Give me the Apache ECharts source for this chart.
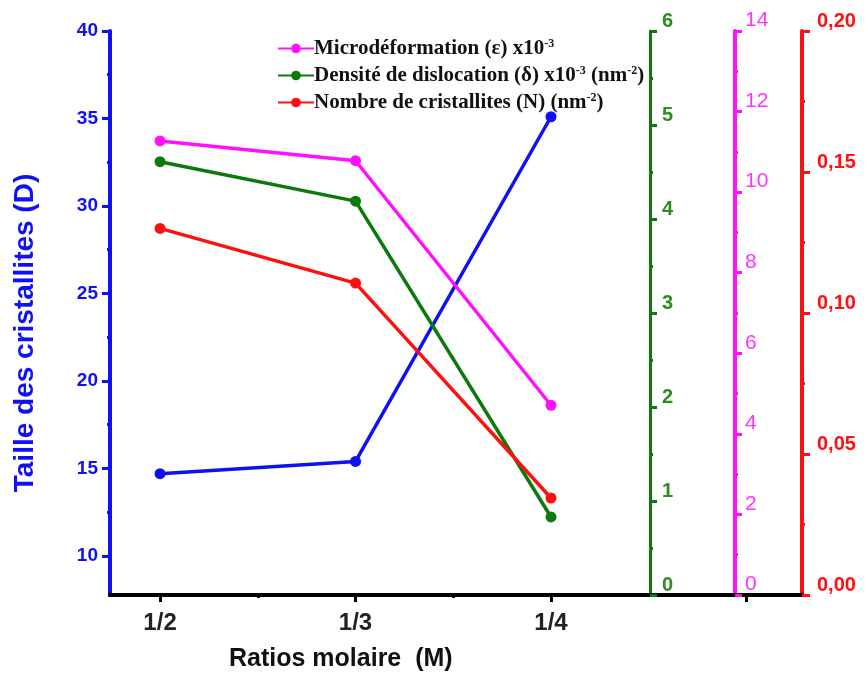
<!DOCTYPE html>
<html><head><meta charset="utf-8">
<script src="https://cdn.jsdelivr.net/npm/echarts@6/dist/echarts.min.js"></script>
<style>html,body{margin:0;padding:0;background:#fff}#c{width:868px;height:679px}</style>
</head><body><div id="c"></div>
<script>
// ---- data ----
const categories = ['1/2', '1/3', '1/4'];
const xPositions = [1, 2, 3];
const tailleD = [14.7, 15.4, 35.1];
const microDef = [11.27, 10.78, 4.71];
const densite = [4.61, 4.19, 0.83];
const nombreN = [0.130, 0.1106, 0.0344];
const blueTicks = [10, 15, 20, 25, 30, 35, 40];
const blueMinor = [12.5, 17.5, 22.5, 27.5, 32.5, 37.5];
const seriesNames = ['Microdéformation (ε) x10{s|-3}', 'Densité de dislocation (δ) x10{s|-3} (nm{s|-2})', 'Nombre de cristallites (N) (nm{s|-2})'];

const BLUE = '#1010f5', GREEN = '#0b7a0b', PINK = '#ff10ff', RED = '#ff1010';
const lab = (c, size) => ({color: c, fontFamily: 'Liberation Sans', fontSize: size, fontWeight: 'bold'});
const pts = (vals) => vals.map((v, i) => [xPositions[i], v]);

const chart = echarts.init(document.getElementById('c'));
chart.setOption({
  animation: false,
  grid: {left: 110, right: 66, top: 31, bottom: 84},
  legend: {
    orient: 'vertical', left: 277, top: 38, padding: 0, itemWidth: 36, itemHeight: 12, itemGap: 6,
    data: ['micro', 'dens', 'nomb'],
    formatter: (n) => ({micro: seriesNames[0], dens: seriesNames[1], nomb: seriesNames[2]})[n],
    textStyle: {fontFamily: 'Liberation Serif', fontSize: 21, fontWeight: 'bold', color: '#111', padding: [0,0,0,-5],
      rich: {s: {fontFamily: 'Liberation Serif', fontSize: 12, fontWeight: 'bold', color: '#111', verticalAlign: 'top', padding: [0,0,9,0]}}}
  },
  xAxis: [
    {type: 'value', min: 0.744, max: 4.284, position: 'bottom',
     axisLine: {lineStyle: {color: '#000', width: 4}},
     axisTick: {customValues: [1, 2, 3, 4], length: 7, lineStyle: {color: '#000', width: 3}},
     axisLabel: {customValues: xPositions, formatter: (v) => categories[Math.round(v) - 1] || '', margin: 16,
       color: '#222', fontFamily: 'Liberation Sans', fontSize: 24, fontWeight: 'bold'},
     splitLine: {show: false}},
    {type: 'value', min: 0.744, max: 4.284, position: 'bottom',
     axisLine: {show: false},
     axisTick: {customValues: [1.5, 2.5], length: 3, lineStyle: {color: '#000', width: 3}},
     axisLabel: {show: false}, splitLine: {show: false}},
    {type: 'value', min: 0.744, max: 4.284, position: 'top',
     axisLine: {lineStyle: {color: '#000', width: 4}},
     axisTick: {show: false}, axisLabel: {show: false}, splitLine: {show: false}}
  ],
  yAxis: [
    {type: 'value', min: 7.77, max: 40, position: 'left',
     name: 'Taille des cristallites (D)', nameLocation: 'middle', nameGap: 71,
     nameTextStyle: {color: BLUE, fontFamily: 'Liberation Sans', fontSize: 28, fontWeight: 'bold', padding: [0,0,0,-40]},
     axisLine: {show: true, lineStyle: {color: BLUE, width: 4}},
     axisTick: {customValues: blueTicks, length: 8, lineStyle: {color: BLUE, width: 3}},
     axisLabel: Object.assign(lab(BLUE, 19), {customValues: blueTicks, margin: 12, padding: [0,0,8,0]}),
     splitLine: {show: false}},
    {type: 'value', min: 7.77, max: 40, position: 'left',
     axisLine: {show: false},
     axisTick: {customValues: blueMinor, length: 3, lineStyle: {color: BLUE, width: 3}},
     axisLabel: {show: false}, splitLine: {show: false}},
    {type: 'value', min: 0, max: 6, interval: 1, position: 'right', offset: -152,
     axisLine: {show: true, lineStyle: {color: GREEN, width: 3}},
     axisTick: {show: true, length: 7, lineStyle: {color: GREEN, width: 3}},
     minorTick: {show: true, splitNumber: 2, length: 3, lineStyle: {color: GREEN, width: 3}},
     axisLabel: Object.assign(lab('#2f8a22', 20), {margin: 12, verticalAlign: 'bottom'}),
     splitLine: {show: false}},
    {type: 'value', min: 0, max: 14, interval: 2, position: 'right', offset: -67,
     axisLine: {show: true, lineStyle: {color: PINK, width: 4}},
     axisTick: {show: true, length: 7, lineStyle: {color: PINK, width: 3}},
     minorTick: {show: true, splitNumber: 2, length: 3, lineStyle: {color: PINK, width: 3}},
     axisLabel: Object.assign(lab('#ff33ff', 21), {margin: 10, verticalAlign: 'bottom', fontWeight: 'normal'}),
     splitLine: {show: false}},
    {type: 'value', min: 0, max: 0.2, interval: 0.05, position: 'right', offset: 0,
     axisLine: {show: true, lineStyle: {color: RED, width: 4}},
     axisTick: {show: true, length: 8, lineStyle: {color: RED, width: 3}},
     minorTick: {show: true, splitNumber: 2, length: 3, lineStyle: {color: RED, width: 3}},
     axisLabel: Object.assign(lab(RED, 20), {margin: 15, verticalAlign: 'bottom', formatter: (v) => v.toFixed(2).replace('.', ',')}),
     splitLine: {show: false}}
  ],
  graphic: [{type: 'text', left: 229, top: 647,
    style: {text: 'Ratios molaire  (M)', fill: '#111', font: 'bold 25px "Liberation Sans"'}}],
  series: [
    {name: 'taille', type: 'line', xAxisIndex: 0, yAxisIndex: 0, data: pts(tailleD),
     symbol: 'circle', symbolSize: 11, lineStyle: {color: BLUE, width: 3.5}, itemStyle: {color: BLUE}},
    {name: 'micro', type: 'line', xAxisIndex: 0, yAxisIndex: 3, data: pts(microDef),
     symbol: 'circle', symbolSize: 11, lineStyle: {color: PINK, width: 3.5}, itemStyle: {color: PINK}},
    {name: 'dens', type: 'line', xAxisIndex: 0, yAxisIndex: 2, data: pts(densite),
     symbol: 'circle', symbolSize: 11, lineStyle: {color: GREEN, width: 3.5}, itemStyle: {color: GREEN}},
    {name: 'nomb', type: 'line', xAxisIndex: 0, yAxisIndex: 4, data: pts(nombreN),
     symbol: 'circle', symbolSize: 11, lineStyle: {color: RED, width: 3.5}, itemStyle: {color: RED}}
  ]
});
</script></body></html>
